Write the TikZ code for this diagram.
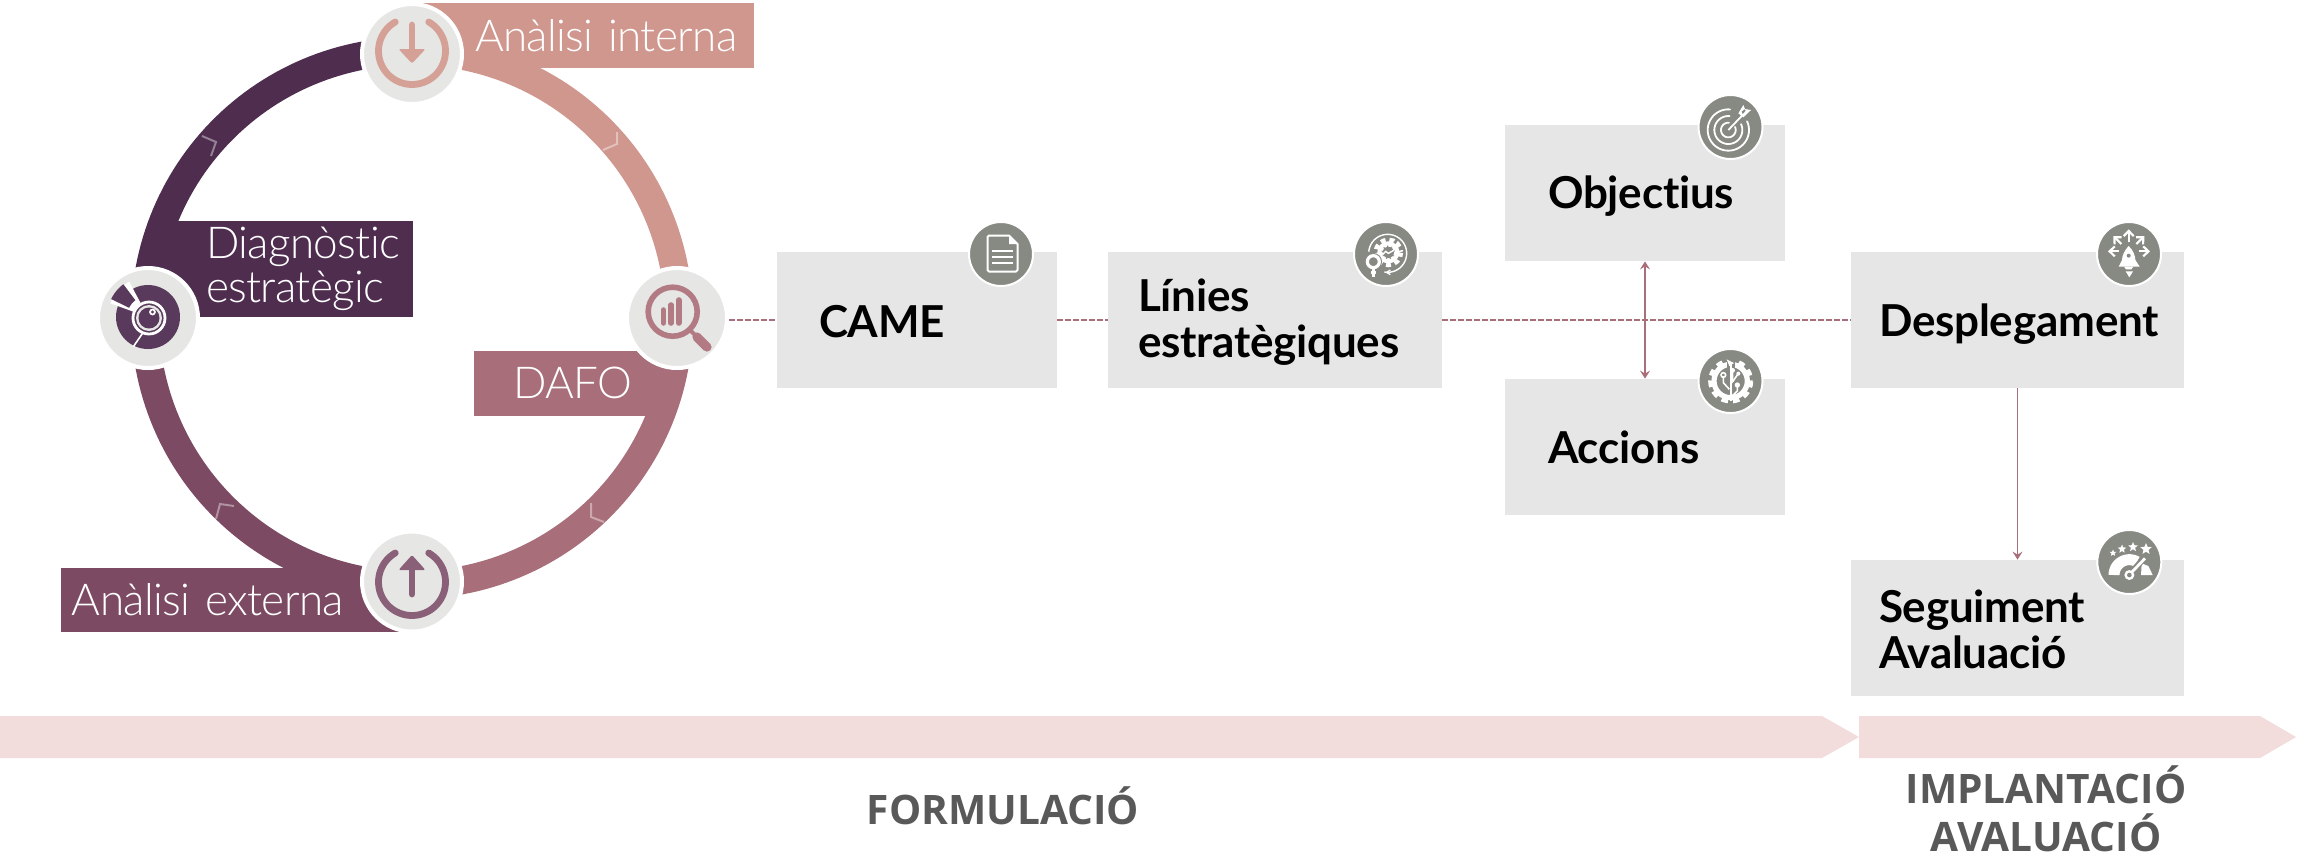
\documentclass[tikz,border=0pt]{standalone}
\usepackage{fontspec}
\usetikzlibrary{arrows.meta}
\setmainfont[LetterSpace=-0.5,Ligatures=NoCommon]{Lato}
\newfontfamily\lightf[LetterSpace=-1.4,Ligatures=NoCommon]{Lato Light}
\newfontfamily\capsf{Open Sans}
\definecolor{segA}{HTML}{CF978E}
\definecolor{segB}{HTML}{A86E79}
\definecolor{segC}{HTML}{7D4A63}
\definecolor{segD}{HTML}{4F2D4F}
\definecolor{iconA}{HTML}{D5A197}
\definecolor{iconB}{HTML}{B27A83}
\definecolor{iconC}{HTML}{8A6079}
\definecolor{iconD}{HTML}{5A3A5C}
\definecolor{disc}{HTML}{E6E6E4}
\definecolor{boxg}{HTML}{E6E6E6}
\definecolor{badge}{HTML}{878A83}
\definecolor{band}{HTML}{F2DCDC}
\definecolor{capt}{HTML}{595959}
\definecolor{conn}{HTML}{A86E79}
\tikzset{
  ringseg/.style={line width=14pt,draw},
  lab/.style={rectangle,inner sep=0pt,text=white,font=\lightf\fontsize{22}{22}\selectfont,anchor=center},
  bigicon/.style={circle,fill=disc,draw=white,line width=2pt,minimum size=50pt,inner sep=0pt},
  smallicon/.style={circle,fill=badge,draw=white,line width=1pt,minimum size=32pt,inner sep=0pt},
  stepbox/.style={rectangle,fill=boxg,inner ysep=0pt,minimum height=68pt,align=left,
     font=\bfseries\fontsize{22}{23}\selectfont,text=black},
  dash conn/.style={draw=conn,line width=1pt,dash pattern=on 3pt off 1pt},
  solid conn/.style={draw=conn,line width=.9pt,>={Stealth[length=4pt,width=5pt,inset=1.5pt]}},
  caption/.style={font=\capsf\bfseries\fontsize{20.3}{24}\selectfont,text=capt,align=center,inner sep=0pt},
  wl/.style={draw=white,line cap=round,line join=round},
  zoomed/.style={x=.16667pt,y=-.16667pt}
}
\newcommand{\arcpts}[5]{plot[domain=#4:#5,samples=60] ({#1+#2*cos(\x)},{#3+#2*sin(\x)})}
\newcommand{\starat}[3]{\fill[white] plot[samples at={0,36,...,324}] ({#1+(1-0.55*mod(\x/36,2))*#3*sin(\x)},{#2-(1-0.55*mod(\x/36,2))*#3*cos(\x)}) -- cycle;}
\newcommand{\topstrut}[1]{\rule{0pt}{#1pt}}
\newcommand{\botstrut}{\rule[-6pt]{0pt}{6pt}}
\begin{document}
\begin{tikzpicture}[x=.5pt,y=-.5pt]
\useasboundingbox (0,0) rectangle (2297,859);
% bands
\fill[band] (0,716) -- (1822,716) -- (1859,737) -- (1822,758) -- (0,758) -- cycle;
\fill[band] (1859,716) -- (2260,716) -- (2296,737) -- (2260,758) -- (1859,758) -- cycle;
% ring
\draw[ringseg,segA] \arcpts{412}{267}{318}{-90}{0};
\draw[ringseg,segB] \arcpts{412}{267}{318}{0}{90};
\draw[ringseg,segC] \arcpts{412}{267}{318}{90}{180};
\draw[ringseg,segD] \arcpts{412}{267}{318}{180}{270};
% chevrons
\draw[white,opacity=.4,line width=1pt] (617,132) -- (617,144) -- (603,150);
\draw[white,opacity=.4,line width=1pt] (202,136) -- (216,142) -- (211,156);
\draw[white,opacity=.4,line width=1pt] (234,506) -- (220,504) -- (216,519);
\draw[white,opacity=.4,line width=1pt] (591,503) -- (591,517) -- (604,522);
% ring labels
\node[lab,fill=segA,minimum width=167pt,minimum height=32.5pt,text width=167pt,align=left] (labI) at (587,35.5) {\hspace*{27.5pt}Anàlisi interna};
\node[lab,fill=segD,minimum width=131.5pt,minimum height=48pt,text width=131.5pt,align=left] (labD) at (281.5,269) {\hspace*{28pt}Diagnòstic\\\hspace*{28pt}estratègic};
\node[lab,fill=segB,minimum width=93pt,minimum height=32.5pt,text width=93pt,align=left] (labF) at (567,383) {\hspace*{19.5pt}DAFO};
\node[lab,fill=segC,minimum width=169.5pt,minimum height=32pt,text width=169.5pt,align=left] (labE) at (230.5,600) {\hspace*{5.5pt}Anàlisi externa};
% big icons
\node[bigicon] (iconI) at (412,54) {};
\node[bigicon] (iconD) at (148,318) {};
\node[bigicon] (iconF) at (677,318) {};
\node[bigicon] (iconE) at (412,581.5) {};
% icon: down
\draw[iconA,line width=3.4pt,line cap=round] \arcpts{412}{33.5}{51}{-60}{240};
\draw[iconA,line width=3.4pt,line cap=round] (412,25) -- (412,52);
\fill[iconA,rounded corners=1pt] (398.5,49) -- (425.5,49) -- (412,63.5) -- cycle;
% icon: up
\draw[iconC,line width=3.4pt,line cap=round] \arcpts{412}{33.5}{582}{-60}{240};
\draw[iconC,line width=3.4pt,line cap=round] (412,565) -- (412,594);
\fill[iconC,rounded corners=1pt] (398.5,570) -- (425.5,570) -- (412,555) -- cycle;
% icon: magnifier
\draw[iconB,line width=2.8pt] (672.7,311.7) circle[radius=24.5];
\draw[iconB,line width=2pt] (690,330) -- (697,337);
\draw[iconB,line width=4.6pt,line cap=round] (697,337) -- (707,347);
\foreach \bx/\bt in {663.3/310,671/305,678.7/300}
  \draw[iconB,line width=2.8pt,line cap=round] (\bx,\bt) -- (\bx,323);
% icon: eye disc
\fill[iconD] (148,317) circle[radius=32];
\fill[white] (148,317) -- plot[domain=-160:-118,samples=10] ({148+40*cos(\x)},{317+40*sin(\x)}) -- cycle;
\fill[iconD] plot[domain=-154:-127,samples=10] ({148+41*cos(\x)},{317+41*sin(\x)}) -- plot[domain=-127:-154,samples=10] ({148+21*cos(\x)},{317+21*sin(\x)}) -- cycle;
\draw[white,line width=.8pt] (151,321) -- (133.3,346.7);
\fill[iconD] (149,318) circle[radius=17];
\draw[white,line width=1.4pt] (149,318) circle[radius=16];
\fill[disc] (149,318) circle[radius=13];
\fill[iconD] (149,318) circle[radius=10.5];
\fill[white] (152.5,312) circle[radius=3.4];
\fill[iconD] (152.5,312) circle[radius=1.6];
% boxes
\node[stepbox,minimum width=140pt,text width=98pt,inner xsep=21pt] (came) at (917,320) {\topstrut{23}CAME\botstrut};
\node[stepbox,minimum width=166.75pt,text width=136.75pt,inner xsep=15pt] (linies) at (1274.75,320) {\topstrut{20}Línies\\estratègiques\botstrut};
\node[stepbox,minimum width=140pt,text width=97pt,inner xsep=21.5pt] (obj) at (1645,193) {\topstrut{21}Objectius\botstrut};
\node[stepbox,minimum width=140pt,text width=97pt,inner xsep=21.5pt] (acc) at (1645,447) {\topstrut{22}Accions\botstrut};
\node[stepbox,minimum width=166.5pt,text width=138.5pt,inner xsep=14pt] (desp) at (2017.5,320) {\topstrut{22}Desplegament\botstrut};
\node[stepbox,minimum width=166.5pt,text width=138.5pt,inner xsep=14pt] (seg) at (2017.5,628) {\topstrut{23}Seguiment\\Avaluació\botstrut};
% connectors
\draw[dash conn] (iconF.east |- came.west) -- (came.west);
\draw[dash conn] (came.east) -- (linies.west);
\draw[dash conn] (linies.east) -- (desp.west);
\draw[solid conn,<->] (obj.south) -- (acc.north);
\draw[solid conn,line width=.7pt,->] (desp.south) -- (seg.north);
% small icons
\node[smallicon] (icCame) at (1001,254) {};
\node[smallicon] (icLin) at (1386,254) {};
\node[smallicon] (icObj) at (1730.5,127) {};
\node[smallicon] (icAcc) at (1730.5,381) {};
\node[smallicon] (icDesp) at (2129,254) {};
\node[smallicon] (icSeg) at (2129.3,562) {};
% document glyph
\draw[wl,line width=1pt] (1009,235.5) -- (989,235.5) -- (987.5,237) -- (987.5,270) -- (989,271.5) -- (1016,271.5) -- (1017.5,270) -- (1017.5,244) -- cycle;
\fill[white] (1009,236) -- (1017,244) -- (1009,244) -- cycle;
\foreach \ly in {251,257,263} \draw[white,line width=1pt] (992,\ly) -- (1013,\ly);
% lines glyph
\begin{scope}[shift={(1345,214)},zoomed]
  \draw[white,line width=.7pt] plot[domain=-175:100,samples=40] ({128+57*cos(\x)},{118+57*sin(\x)});
  \draw[white,line width=.7pt] (136,168) -- (125,175) -- (136,182);
  \draw[white,line width=4.5pt,dash pattern=on 2pt off 1.5pt] (130,115) circle[radius=31];
  \draw[white,line width=2pt] (130,115) circle[radius=27];
  \draw[white,line width=.7pt] (112,122) -- (122,112) -- (130,118) -- (148,108);
  \fill[badge] (85,143) circle[radius=26];
  \draw[white,line width=1.6pt] (85,143) circle[radius=18];
  \draw[white,line width=1.6pt] (85,162) -- (85,190);
  \draw[white,line width=1.6pt] (78,175) -- (92,175);
\end{scope}
% target glyph
\begin{scope}[shift={(1690,90)},zoomed]
  \foreach \rr in {62,42,22}
    \draw[white,line width=.9pt,line cap=round] plot[domain=-25:275,samples=40] ({115+\rr*cos(\x)},{120+\rr*sin(\x)});
  \draw[white,line width=.9pt] (115,120) -- (157,76);
  \fill[white] (145,70) -- (160,45) -- (165,57) -- (183,60) -- (160,82) -- cycle;
  \fill[badge] (155,65) -- (163,58) -- (167,62) -- (158,72) -- cycle;
\end{scope}
% tree gear glyph
\begin{scope}[shift={(1690,341)},zoomed]
  \draw[white,line width=3.5pt,dash pattern=on 3pt off 2.4pt] (122,120) circle[radius=57];
  \draw[white,line width=2.6pt] (122,120) circle[radius=50];
  \fill[badge] (112,45) -- (112,80) -- (135,80) -- (135,45) -- cycle;
  \fill[white] (110,55) -- (132,66) -- (118,75) -- cycle;
  \draw[white,line width=1.1pt] (122,180) -- (122,65);
  \draw[white,line width=.8pt] (100,105) -- (100,125) -- (118,145);
  \draw[white,line width=.8pt] (128,92) -- (128,120) -- (122,130);
  \draw[white,line width=.8pt] (142,135) -- (142,150) -- (126,165);
  \draw[white,line width=.8pt] (100,102) circle[radius=7];
  \fill[white] (128,88) circle[radius=7];
  \fill[white] (145,98) circle[radius=6];
  \draw[white,line width=.8pt] (128,122) -- (143,100);
  \fill[white] (142,132) circle[radius=8];
\end{scope}
% rocket glyph
\begin{scope}[shift={(2088,214)},zoomed]
  \draw[white,line width=1.1pt,-{Straight Barb[length=2.6pt,width=5pt]}] (122,85) -- (122,46);
  \draw[white,line width=1.1pt,-{Straight Barb[length=2.6pt,width=5pt]}] (100,90) -- (76,66);
  \draw[white,line width=1.1pt,-{Straight Barb[length=2.6pt,width=5pt]}] (145,90) -- (169,66);
  \draw[white,line width=1.1pt,-{Straight Barb[length=2.6pt,width=5pt]}] (92,112) -- (60,112);
  \draw[white,line width=1.1pt,-{Straight Barb[length=2.6pt,width=5pt]}] (152,112) -- (186,112);
  \fill[white] (122,96) .. controls (135,108) and (142,125) .. (142,138) -- (155,158) -- (92,158) -- (102,138) .. controls (102,125) and (110,108) .. (122,96) -- cycle;
  \fill[white] (108,158) -- (136,158) -- (130,166) -- (114,166) -- cycle;
  \fill[badge] (122,125) circle[radius=6];
  \fill[white] (113,172) -- (135,172) -- (124,190) -- cycle;
\end{scope}
% gauge glyph
\begin{scope}[shift={(1780,500)},zoomed]
  \draw[white,line width=5.5pt] plot[domain=180:300,samples=30] ({1048+46*cos(\x)},{225+46*sin(\x)});
  \fill[white] (1085,190) -- (1105,198) -- (1118,225) -- (1083,225) -- cycle;
  \draw[badge,line width=3pt] (1050,222) -- (1098,168);
  \draw[white,line width=1.4pt] (1052,220) -- (1095,175);
  \fill[white] (1048,225) circle[radius=15];
  \fill[badge] (1048,225) circle[radius=7];
\end{scope}
\starat{2113}{553}{3.5}
\starat{2122}{549}{4.5}
\starat{2133}{547}{5}
\starat{2146}{549}{6}
% captions
\node[caption] (capF) at (1003,806) {FORMULACIÓ};
\node[caption] (capI) at (2046,809) {IMPLANTACIÓ\\AVALUACIÓ};
\end{tikzpicture}
\end{document}
